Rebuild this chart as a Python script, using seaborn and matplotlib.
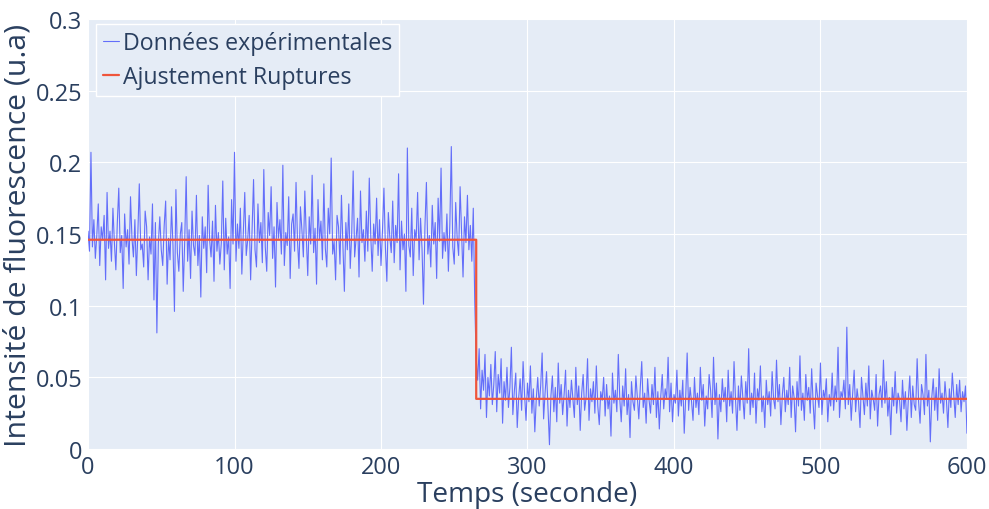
import numpy as np
import pandas as pd
import matplotlib
matplotlib.use('Agg')
import matplotlib.pyplot as plt
import matplotlib.ticker as mticker
import seaborn as sns

# signal (1e-3 u.a), one sample per second
intensity_high = [
    152, 138, 207, 141, 160, 133, 149, 171, 128, 155,
    146, 163, 118, 179, 140, 152, 131, 168, 144, 125,
    158, 182, 137, 149, 112, 164, 141, 153, 129, 176,
    147, 134, 160, 121, 150, 185, 139, 143, 127, 166,
    155, 118, 148, 136, 171, 104, 158, 81, 143, 162,
    139, 128, 156, 173, 115, 147, 132, 169, 142, 96,
    181, 137, 124, 150, 158, 110, 145, 190, 131, 153,
    119, 166, 142, 135, 177, 128, 149, 106, 162, 140,
    155, 123, 184, 146, 134, 159, 117, 170, 138, 151,
    129, 144, 187, 125, 161, 136, 148, 112, 174, 143,
    207, 131, 157, 140, 168, 122, 150, 179, 135, 146,
    163, 118, 152, 188, 139, 127, 171, 144, 158, 130,
    195, 141, 124, 165, 149, 183, 133, 155, 113, 172,
    147, 160, 136, 198, 128, 151, 142, 176, 119, 157,
    164, 138, 186, 145, 126, 169, 153, 134, 180, 148,
    121, 162, 143, 191, 137, 154, 115, 174, 146, 159,
    132, 185, 140, 127, 168, 150, 203, 136, 145, 118,
    163, 155, 129, 177, 142, 110, 158, 139, 171, 126,
    150, 194, 134, 147, 161, 120, 180, 144, 153, 131,
    166, 138, 189, 149, 124, 157, 143, 175, 135, 160,
    128, 152, 182, 141, 117, 165, 148, 137, 173, 130,
    156, 144, 192, 125, 159, 139, 150, 110, 210, 142,
    134, 168, 121, 153, 146, 179, 132, 161, 140, 101,
    155, 186, 136, 149, 127, 170, 143, 158, 119, 175,
    145, 196, 133, 151, 138, 164, 124, 157, 211, 141,
    129, 172, 147, 135, 183, 152, 120, 162, 144, 177,
    139, 156, 131, 168, 103,
]
intensity_low = [
    62, 48, 70, 28, 55, 41, 66, 22, 50, 37,
    59, 31, 45, 68, 26, 52, 39, 63, 18, 47,
    34, 57, 29, 43, 71, 24, 40, 53, 15, 36,
    49, 27, 61, 38, 20, 46, 33, 58, 25, 42,
    12, 35, 50, 30, 44, 67, 21, 39, 54, 28,
    3, 37, 51, 26, 43, 19, 60, 32, 45, 24,
    38, 55, 16, 41, 29, 48, 35, 22, 57, 31,
    44, 13, 39, 52, 27, 36, 63, 20, 42, 33,
    47, 25, 58, 30, 17, 40, 34, 50, 23, 45,
    28, 37, 9, 53, 32, 41, 26, 66, 35, 19,
    44, 30, 56, 24, 38, 8, 47, 33, 27, 51,
    36, 21, 43, 61, 29, 39, 18, 49, 34, 25,
    45, 31, 57, 22, 40, 14, 37, 52, 28, 42,
    35, 64, 26, 46, 19, 38, 32, 55, 23, 41,
    30, 48, 11, 36, 67, 27, 43, 33, 20, 50,
    29, 39, 24, 57, 34, 45, 16, 37, 28, 52,
    41, 22, 64, 31, 46, 7, 38, 26, 49, 33,
    43, 19, 55, 30, 40, 25, 61, 35, 13, 44,
    27, 51, 36, 21, 47, 32, 70, 24, 39, 29,
    53, 18, 42, 34, 58, 26, 37, 15, 48, 31,
    40, 23, 54, 35, 28, 62, 33, 45, 17, 38,
    50, 26, 41, 31, 57, 22, 44, 36, 12, 47,
    30, 65, 27, 39, 20, 52, 34, 43, 25, 56,
    32, 14, 46, 37, 29, 60, 24, 41, 35, 49,
    19, 38, 30, 53, 27, 44, 33, 71, 22, 40,
    36, 48, 28, 85, 31, 45, 20, 39, 55, 26,
    42, 33, 15, 50, 37, 24, 46, 30, 58, 21,
    41, 35, 27, 52, 16, 38, 44, 29, 62, 32,
    47, 23, 36, 10, 43, 30, 54, 25, 39, 34,
    19, 48, 28, 40, 13, 35, 51, 22, 44, 31,
    27, 63, 33, 18, 45, 38, 24, 66, 30, 41,
    5, 36, 49, 27, 43, 20, 56, 32, 39, 25,
    47, 34, 15, 42, 29, 53, 37, 22, 45, 31,
    48, 26, 40, 33, 44, 11,
]

# ruptures fit: one level per segment
fit_levels = [0.146, 0.035]

signal = np.array(intensity_high + intensity_low) / 1000.0
time = np.arange(len(signal))
fit = np.repeat(fit_levels, [len(intensity_high), len(intensity_low)])

df = pd.DataFrame({'t': time, 'signal': signal, 'fit': fit})

sns.set_style('darkgrid', {'axes.facecolor': '#E5ECF6', 'grid.color': 'white'})
plt.rcParams['font.family'] = ['Open Sans', 'DejaVu Sans']
txt = '#2a3f5f'

fig = plt.figure(figsize=(9.89, 5.10), dpi=100)
ax = fig.add_axes([0.089, 0.1176, 0.8887, 0.8432])

sns.lineplot(data=df, x='t', y='signal', ax=ax, color='#636efa', linewidth=0.8,
             label='Données expérimentales')
sns.lineplot(data=df, x='t', y='fit', ax=ax, color='#EF553B', linewidth=1.6,
             drawstyle='steps-post', label='Ajustement Ruptures')

ax.set_xlim(0, 600)
ax.set_ylim(0, 0.3)
ax.set_xticks(range(0, 601, 100))
ax.set_yticks(np.arange(0, 0.301, 0.05))
ax.yaxis.set_major_formatter(mticker.FuncFormatter(lambda v, p: f'{v:.2f}'.rstrip('0').rstrip('.')))
ax.grid(True, color='white', linewidth=0.8)
for s in ax.spines.values():
    s.set_visible(False)
ax.tick_params(length=0, labelsize=17, colors=txt, pad=4)
ax.set_xlabel('Temps (seconde)', fontsize=20.2, color=txt, labelpad=1)
ax.set_ylabel('Intensité de fluorescence (u.a)', fontsize=21.8, color=txt, labelpad=2)

leg = ax.legend(loc='upper left', bbox_to_anchor=(0.009, 0.988), borderaxespad=0,
                fontsize=16.7, frameon=True, fancybox=False, framealpha=1,
                edgecolor='white', handlelength=0.7, handletextpad=0.15,
                borderpad=0.3, labelspacing=0.42)
for t in leg.get_texts():
    t.set_color(txt)

fig.savefig('out.png', dpi=100)
